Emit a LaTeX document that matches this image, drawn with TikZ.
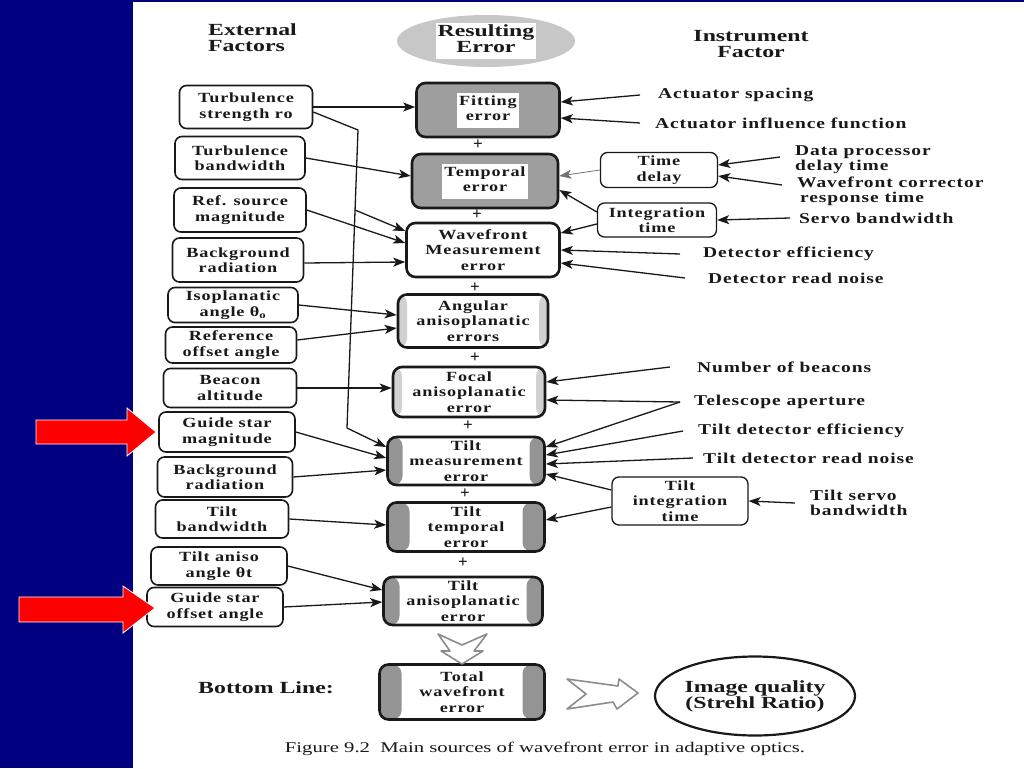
\documentclass[tikz,border=0pt]{standalone}
\usepackage{fontspec}
\setmainfont{Liberation Serif}
\newfontfamily\lblf[FakeStretch=1.3,LetterSpace=6]{Liberation Serif}
\newfontfamily\bigf[FakeStretch=1.4]{Liberation Serif}
\usetikzlibrary{shapes.geometric,arrows.meta}
\definecolor{navy}{RGB}{0,0,128}
\definecolor{ink}{RGB}{25,25,25}
\newcommand\bxf{\lblf\bfseries\fontsize{14}{15.5}\selectfont}
\newcommand\rtf{\lblf\bfseries\fontsize{15}{15}\selectfont}
\newcommand\hdrf{\bigf\bfseries\fontsize{17}{16}\selectfont}
\newcommand\wbx[1]{{\setlength{\fboxsep}{2pt}\colorbox{white}{\begin{tabular}{@{}c@{}}#1\end{tabular}}}}
\begin{document}
\begin{tikzpicture}[x=1pt,y=-1pt,
  ext/.style={draw=ink, line width=1.6pt, rounded corners=7pt, fill=white, inner sep=0pt, align=center, font=\bxf, text=ink},
  err/.style={draw=ink, line width=2.6pt, rounded corners=9pt, fill=white, inner sep=0pt, align=center, font=\bxf, text=ink},
  errgray/.style={err, fill=black!38},
  sides/.style={path picture={
     \fill[black!42] (path picture bounding box.south west) rectangle ([xshift=#1]path picture bounding box.north west);
     \fill[black!42] (path picture bounding box.south east) rectangle ([xshift=-#1]path picture bounding box.north east);}},
  lightsides/.style={path picture={
     \fill[black!18] (path picture bounding box.south west) rectangle ([xshift=#1]path picture bounding box.north west);
     \fill[black!18] (path picture bounding box.south east) rectangle ([xshift=-#1]path picture bounding box.north east);}},
  rt/.style={anchor=west, inner sep=0pt, font=\rtf, text=ink, align=left},
  conn/.style={line width=1.3pt, draw=ink, line join=round, -{Stealth[length=12pt,width=9pt,inset=3pt]}},
  plus/.style={inner sep=0pt, font=\bfseries\fontsize{17}{17}\selectfont, text=ink},
  hollow/.style={draw=black!45, line width=1.6pt, fill=white, line join=round}
]
\fill[white] (0,0) rectangle (1024,768);
\useasboundingbox (0,0) rectangle (1024,768);
\fill[navy] (0,0) rectangle (133,768);
\fill[navy] (133,0) rectangle (1024,2);

% headers
\node[anchor=west, inner sep=0pt, font=\hdrf, align=left, text=ink] (hext) at (208,38) {External\\Factors};
\node[ellipse, fill=black!22, minimum width=178pt, minimum height=52pt, inner sep=0pt, font=\hdrf, text=ink] (hres) at (486,41) {\wbx{Resulting\\Error}};
\node[inner sep=0pt, font=\hdrf, align=center, text=ink] (hins) at (751,44) {Instrument\\Factor};

% left column
\node[ext, minimum width=133pt, minimum height=43pt] (tsr) at (246,107) {Turbulence\\strength ro};
\node[ext, minimum width=130pt, minimum height=43pt] (tbw) at (240,158) {Turbulence\\bandwidth};
\node[ext, minimum width=132pt, minimum height=44pt] (rsm) at (240,210) {Ref. source\\magnitude};
\node[ext, minimum width=131pt, minimum height=44pt] (bgr1) at (238,260) {Background\\radiation};
\node[ext, minimum width=130pt, minimum height=35pt] (iso) at (233,305) {Isoplanatic\\angle θ\textsubscript{o}};
\node[ext, minimum width=131pt, minimum height=36pt] (roa) at (231,345) {Reference\\offset angle};
\node[ext, minimum width=133pt, minimum height=39pt] (bea) at (230,388) {Beacon\\altitude};
\node[ext, minimum width=136pt, minimum height=40pt] (gsm) at (227,432) {Guide star\\magnitude};
\node[ext, minimum width=135pt, minimum height=40pt] (bgr2) at (225,477) {Background\\radiation};
\node[ext, minimum width=133pt, minimum height=38pt] (tbw2) at (222,519) {Tilt\\bandwidth};
\node[ext, minimum width=136pt, minimum height=38pt] (taa) at (219,566) {Tilt aniso\\angle θt};
\node[ext, minimum width=136pt, minimum height=39pt] (gso) at (215,607) {Guide star\\offset angle};

% middle column
\node[errgray, minimum width=143pt, minimum height=54pt] (fit) at (488,110) {\wbx{Fitting\\error}};
\node[errgray, minimum width=146pt, minimum height=54pt] (tmp) at (485,181) {\wbx{Temporal\\error}};
\node[err, minimum width=153pt, minimum height=54pt] (wfm) at (483,250) {Wavefront\\Measurement\\error};
\node[err, lightsides=9pt, minimum width=150pt, minimum height=53pt] (ang) at (473,321) {Angular\\anisoplanatic\\errors};
\node[err, lightsides=9pt, minimum width=152pt, minimum height=50pt] (foc) at (469,392) {Focal\\anisoplanatic\\error};
\node[err, sides=15pt, minimum width=157pt, minimum height=48pt] (tme) at (466,461) {Tilt\\measurement\\error};
\node[err, sides=22pt, minimum width=157pt, minimum height=49pt] (tte) at (466,527) {Tilt\\temporal\\error};
\node[err, sides=16pt, minimum width=159pt, minimum height=48pt] (tae) at (463,601) {Tilt\\anisoplanatic\\error};
\node[err, sides=22pt, minimum width=165pt, minimum height=55pt] (tot) at (462,692) {Total\\wavefront\\error};

% plus signs
\node[plus] (p1) at (478,145) {+};
\node[plus] (p2) at (477,215) {+};
\node[plus] (p3) at (475,288) {+};
\node[plus] (p4) at (475,358) {+};
\node[plus] (p5) at (468,426) {+};
\node[plus] (p6) at (465,494) {+};
\node[plus] (p7) at (463,563) {+};

% right boxes
\node[ext, line width=1.3pt, minimum width=117pt, minimum height=35pt] (tdl) at (659,170) {Time\\delay};
\node[ext, line width=1.3pt, minimum width=119pt, minimum height=34pt] (itm) at (657,220) {Integration\\time};
\node[ext, line width=1.3pt, minimum width=136pt, minimum height=48pt] (tit) at (680,501) {Tilt\\integration\\time};

% right labels
\node[rt] (as) at (658,95) {Actuator spacing};
\node[rt] (aif) at (655,123) {Actuator influence function};
\node[rt] (dpd) at (795,160) {Data processor\\delay time};
\node[rt] (wcr) at (797,191) {Wavefront corrector\\\hspace*{3pt}response time};
\node[rt] (sbw) at (799,218) {Servo bandwidth};
\node[rt] (def) at (703,254) {Detector efficiency};
\node[rt] (drn) at (708,278) {Detector read noise};
\node[rt] (nob) at (697,367) {Number of beacons};
\node[rt] (tap) at (694,402) {Telescope aperture};
\node[rt] (tde) at (698,431) {Tilt detector efficiency};
\node[rt] (tdr) at (703,458) {Tilt detector read noise};
\node[rt] (tsb) at (810,503) {Tilt servo\\bandwidth};

% bottom
\node[inner sep=0pt, font=\hdrf, text=ink] (bl) at (266,688) {Bottom Line:};
\node[ellipse, draw=ink, line width=2.2pt, minimum width=200pt, minimum height=79pt, inner sep=0pt, align=center, font=\hdrf, text=ink] (iq) at (755,696) {Image quality\\(Strehl Ratio)};
\node[inner sep=0pt, font=\bigf\fontsize{14.8}{14.8}\selectfont, text=ink] (cap) at (545,749) {Figure 9.2\ \ Main sources of wavefront error in adaptive optics.};

% hollow block arrows
\draw[hollow] (438,634) -- (462,645) -- (487,634) -- (474,651) -- (483,651) -- (462,664) -- (441,651) -- (450,651) -- cycle;
\draw[hollow] (567,679) -- (618,686) -- (619,679) -- (638,693) -- (617,709) -- (613,702) -- (567,709) -- (586,694) -- cycle;

% left connectors
\coordinate (k1) at (358,130);
\coordinate (k2) at (355,210);
\coordinate (k3) at (347,428);
\draw[conn] (tsr.east) -- (tsr.east -| fit.west);
\draw[conn] ([yshift=-5pt]tsr.east) -- (k1) -- (k3) -- ([yshift=14pt]tme.west);
\draw[conn] (k2) -- ([yshift=19pt]wfm.west);
\draw[conn] (tbw.east) -- ([yshift=5pt]tmp.west);
\draw[conn] (rsm.east) -- ([yshift=7pt]wfm.west);
\draw[conn] ([yshift=-3pt]bgr1.east) -- ([yshift=-12pt]wfm.west);
\draw[conn] (iso.east) -- ([yshift=6pt]ang.west);
\draw[conn] ([yshift=5pt]roa.east) -- ([yshift=-7pt]ang.west);
\draw[conn] (bea.east) -- (bea.east -| foc.west);
\draw[conn] (gsm.east) -- ([yshift=3pt]tme.west);
\draw[conn] (bgr2.east) -- ([yshift=-9pt]tme.west);
\draw[conn] (tbw2.east) -- ([yshift=2pt]tte.west);
\draw[conn] (taa.east) -- ([yshift=11pt]tae.west);
\draw[conn] (gso.east) -- ([yshift=-1pt]tae.west);

% right connectors
\draw[conn] ([xshift=-18pt]as.west) -- ([yshift=8pt]fit.east);
\draw[conn] ([xshift=-15pt]aif.west) -- ([yshift=-8pt]fit.east);
\draw[conn] ([xshift=-15pt,yshift=3pt]dpd.west) -- ([yshift=5pt]tdl.east);
\draw[conn] ([xshift=-15pt,yshift=6pt]wcr.west) -- ([yshift=-6pt]tdl.east);
\draw[conn, line width=0.8pt, draw=black!55] (tdl.west) -- ([yshift=5pt]tmp.east);
\draw[conn] ([yshift=8pt]itm.west) -- ([yshift=-9pt]tmp.east);
\draw[conn] ([yshift=-4pt]itm.west) -- ([yshift=17pt]wfm.east);
\draw[conn] ([xshift=-9pt]sbw.west) -- (itm.east);
\draw[conn] ([xshift=-23pt]def.west) -- (wfm.east);
\draw[conn] ([xshift=-23pt]drn.west) -- ([yshift=-13pt]wfm.east);
\draw[conn] ([xshift=-27pt]nob.west) -- ([yshift=10pt]foc.east);
\draw[conn] ([xshift=-14pt]tap.west) -- ([yshift=-8pt]foc.east);
\draw[conn] ([xshift=-14pt]tap.west) -- ([yshift=14pt]tme.east);
\draw[conn] ([xshift=-15pt]tde.west) -- ([yshift=6pt]tme.east);
\draw[conn] ([xshift=-10pt]tdr.west) -- ([yshift=-3pt]tme.east);
\draw[conn] ([yshift=11pt]tit.west) -- ([yshift=-13pt]tme.east);
\draw[conn] ([yshift=-6pt]tit.west) -- ([yshift=7pt]tte.east);
\draw[conn] ([xshift=-15pt]tsb.west) -- (tit.east);

% red arrows
\draw[fill=red, draw=white, line width=0.8pt] (36,420) -- (127,420) -- (127,408) -- (156,432) -- (127,456) -- (127,444) -- (36,444) -- cycle;
\draw[fill=red, draw=white, line width=0.8pt] (19,597) -- (123,597) -- (123,586) -- (155,608) -- (123,633) -- (123,622) -- (19,622) -- cycle;
\end{tikzpicture}
\end{document}
